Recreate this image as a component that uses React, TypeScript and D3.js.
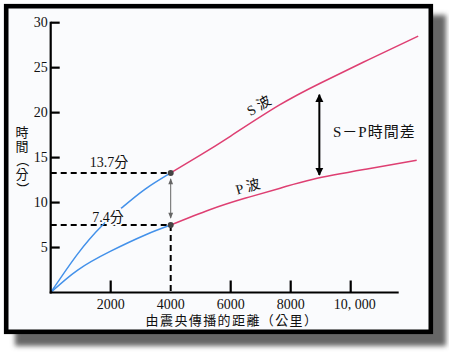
import * as d3 from "d3"

// 距離 (公里) 與 走時 (分)
const sBlueDist = [0, 900, 1700, 2400, 3150, 4000]
const sBlueTime = [0, 4.3, 7.4, 9.5, 11.5, 13.3]
const sRedDist = [4000, 5000, 6000, 7600, 9000, 10600, 12250]
const sRedTime = [13.3, 15.3, 17.4, 20.8, 23.3, 25.9, 28.5]
const pBlueDist = [0, 900, 2000, 3150, 4000]
const pBlueTime = [0, 2.5, 4.6, 6.4, 7.5]
const pRedDist = [4000, 5300, 6500, 7650, 8750, 10500, 12200]
const pRedTime = [7.5, 9.2, 10.5, 11.6, 12.6, 13.7, 14.7]

const xTicks = [2000, 4000, 6000, 8000, 10000]
const xTickLabels = ["2000", "4000", "6000", "8000", "10, 000"]
const yTicks = [5, 10, 15, 20, 25, 30]
const yTitleChars = ["時", "間", "（", "分", "）"]
const markDist = 4000
const sLabel = "13.7分"
const pLabel = "7.4分"
const gapDist = 8955 // 雙箭頭 S-P 時間差 所在距離

const FONT = "'Liberation Serif', 'Noto Sans CJK TC', serif"
const BLUE = "#4391ea"
const RED = "#de3f72"

export default function App() {
  const W = 449
  const H = 355
  const x = d3.scaleLinear().domain([0, 11600]).range([50.7, 398.7])
  const y = d3.scaleLinear().domain([0, 30]).range([292.5, 22.7])

  const line = d3
    .line<[number, number]>()
    .x((d) => x(d[0]))
    .y((d) => y(d[1]))
    .curve(d3.curveNatural)

  const zip = (a: number[], b: number[]) => a.map((v, i) => [v, b[i]] as [number, number])

  const sAt = sBlueTime[sBlueTime.length - 1]
  const pAt = pBlueTime[pBlueTime.length - 1]
  const axisY = y(0)

  // S-P 箭頭端點
  const sGap = d3.interpolateNumber(20.8, 23.3)((gapDist - 7600) / 1400)
  const pGap = d3.interpolateNumber(12.6, 13.7)((gapDist - 8750) / 1750)

  return (
    <svg
      width={W}
      height={H}
      style={{ position: "absolute", left: 0, top: 0, background: "#fff" }}
    >
      <defs>
        <filter id="blur" x="-10%" y="-10%" width="120%" height="120%">
          <feGaussianBlur stdDeviation="2.5" />
        </filter>
        <marker id="ah" viewBox="0 0 10 10" refX="9" refY="5" markerWidth="4" markerHeight="5" orient="auto-start-reverse">
          <path d="M0,0 L10,5 L0,10 z" fill="#000" />
        </marker>
        <marker id="ahg" viewBox="0 0 10 10" refX="9" refY="5" markerWidth="7" markerHeight="6" orient="auto-start-reverse">
          <path d="M0,1 L10,5 L0,9 z" fill="#666" />
        </marker>
      </defs>

      {/* 陰影與外框 */}
      <rect x={15} y={15} width={431} height={331} fill="#666" filter="url(#blur)" />
      <rect x={6.2} y={6.2} width={424.6} height={325.6} fill="#fafbfd" stroke="#000" strokeWidth={4.6} />

      {/* 虛線 */}
      <g stroke="#000" strokeWidth={2} strokeDasharray="6,4" fill="none">
        <line x1={x(0)} x2={x(markDist)} y1={y(sAt)} y2={y(sAt)} />
        <line x1={x(0)} x2={x(markDist)} y1={y(pAt)} y2={y(pAt)} />
        <line x1={x(markDist)} x2={x(markDist)} y1={y(pAt)} y2={axisY} />
      </g>

      {/* 曲線 */}
      <g fill="none" strokeWidth={1.5}>
        <path d={line(zip(sBlueDist, sBlueTime)) || ""} stroke={BLUE} />
        <path d={line(zip(pBlueDist, pBlueTime)) || ""} stroke={BLUE} />
        <path d={line(zip(sRedDist, sRedTime)) || ""} stroke={RED} />
        <path d={line(zip(pRedDist, pRedTime)) || ""} stroke={RED} />
      </g>

      {/* 4000 公里處的小箭頭 */}
      <line
        x1={x(markDist)}
        x2={x(markDist)}
        y1={y(sAt) + 6}
        y2={y(pAt) - 7}
        stroke="#666"
        strokeWidth={1}
        markerStart="url(#ahg)"
        markerEnd="url(#ahg)"
      />
      <circle cx={x(markDist)} cy={y(sAt)} r={3} fill="#444" />
      <circle cx={x(markDist)} cy={y(pAt)} r={3} fill="#444" />

      {/* 軸 */}
      <g stroke="#000" strokeWidth={2.2}>
        <line x1={x(0)} x2={x(0)} y1={axisY + 1} y2={y(30) - 1} />
        <line x1={x(0) - 1} x2={398.7} y1={axisY} y2={axisY} />
        {yTicks.map((t) => (
          <line key={t} x1={x(0)} x2={x(0) + 9} y1={y(t)} y2={y(t)} />
        ))}
        {xTicks
          .filter((t) => t !== markDist)
          .map((t) => (
            <line key={t} x1={x(t)} x2={x(t)} y1={axisY} y2={axisY - 12} />
          ))}
      </g>

      <g fontFamily={FONT} fontSize={14} fill="#111">
        {yTicks.map((t) => (
          <text key={t} x={x(0) - 3} y={y(t)} textAnchor="end" dominantBaseline="central">
            {t}
          </text>
        ))}
        {xTicks.map((t, i) => (
          <text key={t} x={x(t) + (i === 4 ? 4 : 0)} y={axisY + 12} textAnchor="middle" dominantBaseline="central">
            {xTickLabels[i]}
          </text>
        ))}
        <text x={232} y={axisY + 28} textAnchor="middle" dominantBaseline="central" fontSize={13} letterSpacing={1.4}>
          由震央傳播的距離（公里）
        </text>
        {yTitleChars.map((c, i) => {
          const cy = 132 + i * 14.2
          const paren = c === "（" || c === "）"
          return (
            <text
              key={i}
              x={0}
              y={0}
              transform={`translate(22,${cy})${paren ? " rotate(90)" : ""}`}
              textAnchor="middle"
              dominantBaseline="central"
              fontSize={13}
            >
              {c}
            </text>
          )
        })}

        <text x={109} y={y(sAt) - 10} textAnchor="middle" dominantBaseline="central">
          {sLabel}
        </text>
        <text
          x={108}
          y={y(pAt) - 8}
          textAnchor="middle"
          dominantBaseline="central"
          stroke="#fafbfd"
          strokeWidth={4}
          paintOrder="stroke"
        >
          {pLabel}
        </text>

        <text x={0} y={0} transform={`translate(259,106) rotate(-31)`} textAnchor="middle" dominantBaseline="central">
          S 波
        </text>
        <text x={0} y={0} transform={`translate(248,187) rotate(-16)`} textAnchor="middle" dominantBaseline="central">
          P 波
        </text>
        <text x={333} y={132} dominantBaseline="central" fontSize={15} letterSpacing={1}>
          S－P時間差
        </text>
      </g>

      {/* S-P 時間差 雙箭頭 */}
      <line
        x1={x(gapDist)}
        x2={x(gapDist)}
        y1={y(sGap) + 11}
        y2={y(pGap) - 3}
        stroke="#000"
        strokeWidth={2}
        markerStart="url(#ah)"
        markerEnd="url(#ah)"
      />
    </svg>
  )
}
